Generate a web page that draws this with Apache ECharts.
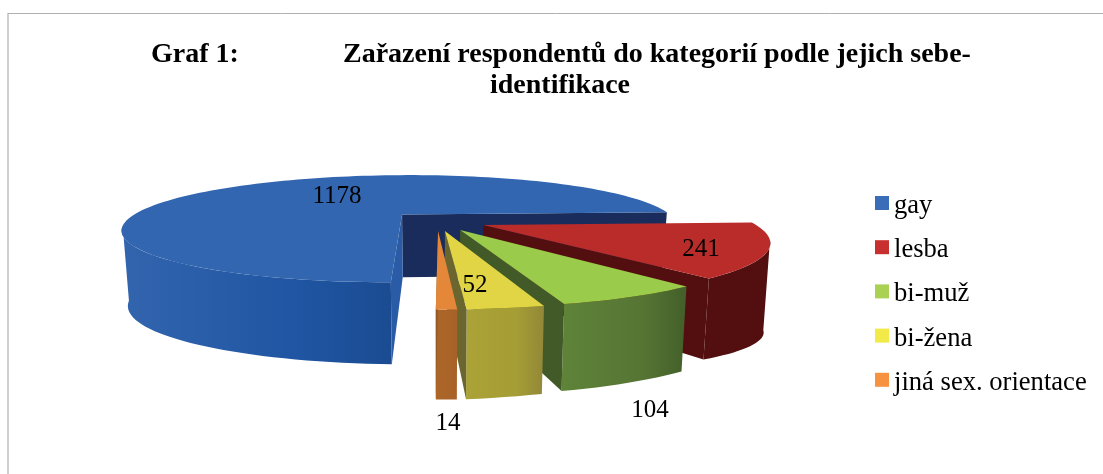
<!DOCTYPE html>
<html><head><meta charset="utf-8"><style>html,body{margin:0;padding:0;background:#fff}#c{width:1103px;height:474px}</style>
<script src="https://cdn.jsdelivr.net/npm/echarts@6/dist/echarts.min.js"></script></head>
<body><div id="c"></div>
<script>
const categories = ['gay','lesba','bi-muž','bi-žena','jiná sex. orientace'];
const values = [1178,241,104,52,14];
const titleMain = 'Zařazení respondentů do kategorií podle jejich sebe-';
const titleSecond = 'identifikace';
const titleLabel = 'Graf 1:';

const topColors = ['#3366B0','#BA2C2A','#9BCB4A','#E1D445','#E58739'];
const legendColors = ['#3A6DB8','#C82F2F','#AAD154','#F2EA48','#F79340'];
const sideStops = [['#3365AE','#1F55A2','#1B4C92'],['#530F10','#530F10','#530F10'],['#5F8339','#567534','#435F2A'],['#ABA336','#A59D35','#928838'],['#AD6628','#AA6428','#A86228']];
const wallColors = ['#1A2C5C','#530F10','#425A28','#6B6630','#8E5A28'];
const labelPos = [[337,196],[701,249],[650,410],[475,285],[448,423]];
const sideDepth = [[82,75],[90,81],[85,87],[88,90],[90,90]];
const sideStart = [0,18,0,0,0];

const FONT = '"Liberation Serif","Times New Roman",serif';
const total = values.reduce((a,b)=>a+b,0);
const startAngle = 180.4, EXPLODE = 0.18, PERSP = 0.2716;
const CX = 437, TOPY = 221, BOTY = 285.5, RX = 277, TOPH = 53.3, BOTH = 68, BOTK = 0.98;
const radius = [1,0.965,0.965,0.965,0.965];
let acc = 0;
const arcs = values.map(v=>{const a=startAngle+acc/total*360; acc+=v; return [a,startAngle+acc/total*360];});
arcs[0][0] -= 0.6;
const rad = d=>d*Math.PI/180;
function proj(X,V,bottom){const w=1+PERSP*V;
  return bottom?[CX+BOTK*RX*X/w,BOTY-BOTH*V/w]:[CX+RX*X/w,TOPY-TOPH*V/w];}
function pt(i,theta,r,bottom){const m=rad((arcs[i][0]+arcs[i][1])/2);
  const X=EXPLODE*Math.sin(m)+r*Math.sin(rad(theta)),V=EXPLODE*Math.cos(m)+r*Math.cos(rad(theta));
  return proj(X,V,bottom);}
function rim(i,a,b){const out=[],n=Math.max(6,Math.ceil(Math.abs(b-a)/2));
  for(let k=0;k<=n;k++)out.push(pt(i,a+(b-a)*k/n,radius[i],false));return out;}
function lower(p,d){return [CX+BOTK*(p[0]-CX),p[1]+d];}
function sidePoly(i,a,b,d0,d1){const t=rim(i,a,b);
  const l=t.map((p,k)=>lower(p,d0+(d1-d0)*k/(t.length-1)));
  return [...t,...l.reverse()];}
function poly(points,fill){return {type:'polygon',silent:true,shape:{points},style:{fill}};}
function grad(c){return new echarts.graphic.LinearGradient(0,0,1,0,[{offset:0,color:c[0]},{offset:.65,color:c[1]},{offset:1,color:c[2]}]);}
function renderer(i){return function(params,api){
  const [a,b]=arcs[i],r=radius[i],kids=[];
  const apexT=pt(i,a,0,false),apexB=pt(i,a,0,true);
  const endT=pt(i,b,r,false);
  const top=[apexT,...rim(i,a,b)];
  if(i===0){
    kids.push(poly([apexT,endT,pt(i,b,r,true),apexB],wallColors[0]));
    kids.push(poly(sidePoly(i,a,a+78,sideDepth[0][0],sideDepth[0][1]),grad(sideStops[0])));
    const fT=pt(i,a,r,false);
    kids.push(poly([apexT,fT,lower(fT,sideDepth[0][0]),apexB],'#2A5BA6'));
  } else {
    const hi=b,lo=a+sideStart[i];
    kids.push(poly(sidePoly(i,lo,hi,sideDepth[i][0],sideDepth[i][1]),grad(sideStops[i])));
    kids.push(poly([apexT,endT,lower(endT,sideDepth[i][1]),apexB],wallColors[i]));
  }
  kids.push(poly(top,topColors[i]));
  kids.push({type:'text',silent:true,style:{x:labelPos[i][0],y:labelPos[i][1],text:String(api.value(0)),fill:'#000',font:'25px '+FONT,align:'center',verticalAlign:'middle'}});
  return {type:'group',children:kids};
};}
const chart = echarts.init(document.getElementById('c'),null,{renderer:'canvas'});
const titleStyle = {fontFamily:FONT,fontWeight:'bold',fontSize:28,color:'#000'};
chart.setOption({
  animation:false,
  backgroundColor:'#fff',
  title:[
    {text:titleLabel,left:151,top:41,textStyle:titleStyle,padding:0},
    {text:titleMain,left:343,top:41,textStyle:titleStyle,padding:0},
    {text:titleSecond,left:490,top:72,textStyle:titleStyle,padding:0}
  ],
  legend:{orient:'vertical',left:875,top:192.5,itemWidth:14,itemHeight:14,itemGap:17.2,icon:'rect',padding:0,
    data:categories,formatter:'{t|{name}}',
    textStyle:{fontFamily:FONT,fontSize:26.6,color:'#000',rich:{t:{fontFamily:FONT,fontSize:26.6,color:'#000',padding:[6,0,0,0]}}}},
  series:categories.map((name,i)=>({type:'custom',name,coordinateSystem:'none',silent:true,z:2+i,
    itemStyle:{color:legendColors[i]},data:[[values[i]]],renderItem:renderer(i)})),
  graphic:[
    {type:'line',silent:true,shape:{x1:8,y1:13,x2:8,y2:474},style:{stroke:'#d0d0d0',lineWidth:2}},
    {type:'line',silent:true,shape:{x1:8,y1:13.5,x2:1103,y2:13.5},style:{stroke:'#b0b0b0',lineWidth:1}}
  ]
});
</script></body></html>
